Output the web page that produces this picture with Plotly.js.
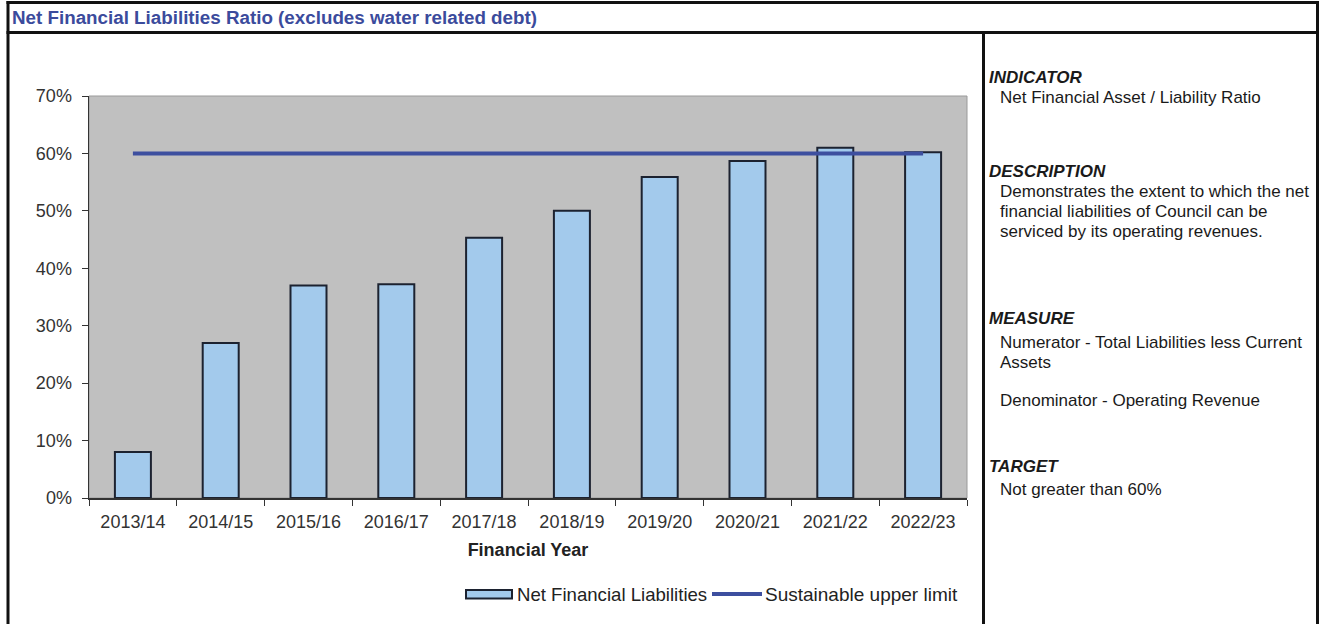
<!DOCTYPE html>
<html>
<head>
<meta charset="utf-8">
<script src="https://cdn.plot.ly/plotly-3.0.1.min.js"></script>
<style>
  html, body { margin: 0; padding: 0; background: #ffffff; }
  #chart { width: 1319px; height: 624px; }
</style>
</head>
<body>
<div id="chart"></div>
<script>
// ---- data ----
const categories = ['2013/14', '2014/15', '2015/16', '2016/17', '2017/18', '2018/19', '2019/20', '2020/21', '2021/22', '2022/23'];
const netFinancialLiabilities = [8.0, 27.0, 37.0, 37.2, 45.3, 50.0, 55.9, 58.7, 61.0, 60.2];
const sustainableUpperLimit = [60, 60, 60, 60, 60, 60, 60, 60, 60, 60];
const yTickValues = [0, 10, 20, 30, 40, 50, 60, 70];
const yTickLabels = ['0%', '10%', '20%', '30%', '40%', '50%', '60%', '70%'];
const seriesNames = ['Net Financial Liabilities', 'Sustainable upper limit'];

// ---- pixel geometry helpers ----
const W = 1319, H = 624;
const PL = 89, PR = 967, PT = 96, PB = 498;
const px = x => (x - PL) / (PR - PL);
const py = y => (PB - y) / (PB - PT);

const FONT = 'Liberation Sans, Arial, Helvetica, sans-serif';
const BAR_FILL = '#a3caec', BAR_EDGE = '#1c2230';
const LINE_COLOR = '#3d4f9f';

const traces = [
  {
    type: 'bar',
    name: seriesNames[0],
    x: categories,
    y: netFinancialLiabilities,
    width: 0.41,
    marker: { color: BAR_FILL, line: { color: BAR_EDGE, width: 2 } },
    hoverinfo: 'x+y'
  },
  {
    type: 'scatter',
    mode: 'lines',
    name: seriesNames[1],
    x: categories,
    y: sustainableUpperLimit,
    line: { color: LINE_COLOR, width: 4 },
    hoverinfo: 'x+y'
  }
];

// frame lines
const frameLine = { color: '#111111', width: 3 };
const shapes = [
  // plot area border (light)
  { type: 'rect', xref: 'paper', yref: 'paper', x0: 0, x1: 1, y0: 0, y1: 1,
    line: { color: '#9a9a9a', width: 1 }, layer: 'below' },
  // outer frame
  { type: 'line', xref: 'paper', yref: 'paper', x0: px(8), x1: px(8), y0: py(1), y1: py(H + 5), line: frameLine },
  { type: 'line', xref: 'paper', yref: 'paper', x0: px(1317.5), x1: px(1317.5), y0: py(1), y1: py(H + 5), line: frameLine },
  { type: 'line', xref: 'paper', yref: 'paper', x0: px(6.5), x1: px(1319), y0: py(2.5), y1: py(2.5), line: frameLine },
  // title bar bottom
  { type: 'line', xref: 'paper', yref: 'paper', x0: px(6.5), x1: px(1319), y0: py(32.5), y1: py(32.5), line: frameLine },
  // divider
  { type: 'line', xref: 'paper', yref: 'paper', x0: px(983.5), x1: px(983.5), y0: py(32.5), y1: py(H + 5), line: frameLine },
  // legend symbols
  { type: 'rect', xref: 'paper', yref: 'paper', x0: px(466), x1: px(512), y0: py(598.5), y1: py(590),
    fillcolor: BAR_FILL, line: { color: BAR_EDGE, width: 2 } },
  { type: 'line', xref: 'paper', yref: 'paper', x0: px(712), x1: px(762), y0: py(594), y1: py(594),
    line: { color: LINE_COLOR, width: 4 } }
];

const textColor = '#1a1a1a';
const panel = [
  { t: '<b><i>INDICATOR</i></b>', x: 987, y: 77 },
  { t: 'Net Financial Asset / Liability Ratio', x: 998, y: 97 },
  { t: '<b><i>DESCRIPTION</i></b>', x: 987, y: 171 },
  { t: 'Demonstrates the extent to which the net', x: 998, y: 191 },
  { t: 'financial liabilities of Council can be', x: 998, y: 211 },
  { t: 'serviced by its operating revenues.', x: 998, y: 231 },
  { t: '<b><i>MEASURE</i></b>', x: 987, y: 318 },
  { t: 'Numerator - Total Liabilities less Current', x: 998, y: 342 },
  { t: 'Assets', x: 998, y: 362 },
  { t: 'Denominator - Operating Revenue', x: 998, y: 400 },
  { t: '<b><i>TARGET</i></b>', x: 987, y: 466 },
  { t: 'Not greater than 60%', x: 998, y: 489 }
];

const annotations = panel.map(p => ({
  text: p.t, xref: 'paper', yref: 'paper', x: px(p.x), y: py(p.y),
  xanchor: 'left', yanchor: 'middle', showarrow: false,
  font: { family: FONT, size: 17, color: textColor }
}));

annotations.push({
  text: '<b>Net Financial Liabilities Ratio (excludes water related debt)</b>',
  xref: 'paper', yref: 'paper', x: px(10), y: py(17.5),
  xanchor: 'left', yanchor: 'middle', showarrow: false,
  font: { family: FONT, size: 18.8, color: '#3b4b9c' }
});

// legend texts
annotations.push({
  text: seriesNames[0], xref: 'paper', yref: 'paper', x: px(515), y: py(594),
  xanchor: 'left', yanchor: 'middle', showarrow: false,
  font: { family: FONT, size: 18.6, color: '#222222' }
});
annotations.push({
  text: seriesNames[1], xref: 'paper', yref: 'paper', x: px(763), y: py(594),
  xanchor: 'left', yanchor: 'middle', showarrow: false,
  font: { family: FONT, size: 19, color: '#222222' }
});

const layout = {
  width: W, height: H,
  margin: { l: PL, r: W - PR, t: PT, b: H - PB, pad: 0 },
  paper_bgcolor: '#ffffff',
  plot_bgcolor: '#c0c0c0',
  font: { family: FONT, size: 18, color: '#333333' },
  showlegend: false,
  xaxis: {
    type: 'category',
    tickson: 'boundaries',
    ticks: 'outside', ticklen: 6, tickwidth: 1, tickcolor: '#333333',
    showline: true, linecolor: '#333333', linewidth: 1.5,
    showgrid: false, zeroline: false,
    tickfont: { family: FONT, size: 18, color: '#333333' },
    ticklabelstandoff: 7,
    title: { text: '<b>Financial Year</b>', font: { family: FONT, size: 18, color: '#222222' }, standoff: 12 },
    automargin: false,
    fixedrange: true
  },
  yaxis: {
    range: [0, 70],
    tickvals: yTickValues, ticktext: yTickLabels,
    ticks: 'outside', ticklen: 6, tickwidth: 1, tickcolor: '#333333',
    showline: true, linecolor: '#333333', linewidth: 1.5,
    showgrid: false, zeroline: false,
    tickfont: { family: FONT, size: 18, color: '#333333' },
    ticklabelstandoff: 6,
    automargin: false,
    fixedrange: true
  },
  shapes: shapes,
  annotations: annotations
};

Plotly.newPlot('chart', traces, layout, { displayModeBar: false, staticPlot: true });
</script>
</body>
</html>
